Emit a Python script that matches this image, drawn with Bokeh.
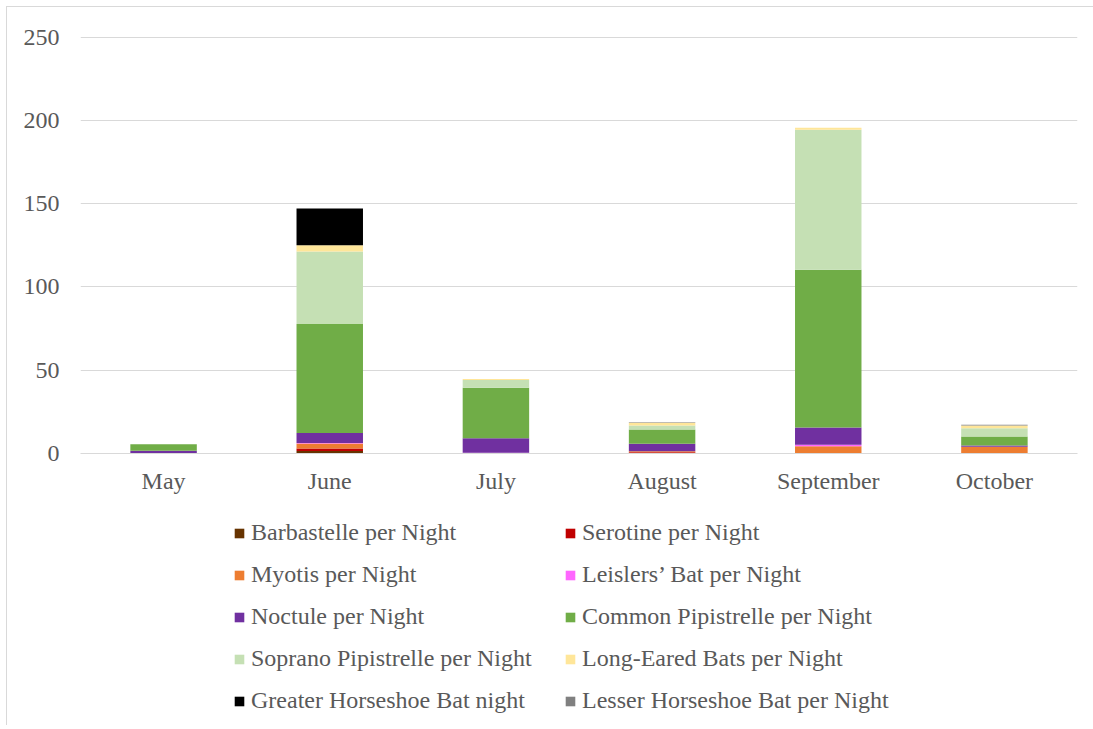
from bokeh.plotting import figure
from bokeh.layouts import column
from bokeh.models import ColumnDataSource, Legend, LegendItem, FixedTicker, FactorRange, Range1d
from bokeh.embed import file_html
from bokeh.resources import INLINE

months = ["May", "June", "July", "August", "September", "October"]
barbastelle = [0, 1.5, 0, 0.3, 0, 0]
serotine = [0, 1.5, 0, 0.5, 0, 0.3]
myotis = [0, 3.0, 0, 0.6, 4.4, 3.7]
leisler = [0, 0.3, 0.5, 0, 0.8, 0]
noctule = [1.6, 6.0, 8.6, 4.4, 10.4, 0.8]
common_pip = [4.0, 65.5, 30.4, 8.6, 94.8, 5.4]
soprano_pip = [0, 43.5, 4.6, 2.4, 84.0, 5.0]
long_eared = [0, 3.8, 0.6, 1.6, 1.2, 1.6]
greater_horseshoe = [0, 22.0, 0, 0, 0, 0]
lesser_horseshoe = [0, 0, 0, 0.4, 0, 0.4]

series_keys = ["barb", "sero", "myot", "leis", "noct", "comm", "sopr", "long", "ghs", "lhs"]
series_labels = ["Barbastelle per Night", "Serotine per Night", "Myotis per Night",
                 "Leislers\u2019 Bat per Night", "Noctule per Night",
                 "Common Pipistrelle per Night", "Soprano Pipistrelle per Night",
                 "Long-Eared Bats per Night", "Greater Horseshoe Bat night",
                 "Lesser Horseshoe Bat per Night"]
colors = ["#663300", "#C00000", "#ED7D31", "#FF66FF", "#7030A0",
          "#70AD47", "#C5E0B4", "#FFE699", "#000000", "#808080"]

data = dict(month=months, barb=barbastelle, sero=serotine, myot=myotis, leis=leisler,
            noct=noctule, comm=common_pip, sopr=soprano_pip, long=long_eared,
            ghs=greater_horseshoe, lhs=lesser_horseshoe)
source = ColumnDataSource(data)

FONT = "Liberation Serif"
TXT = "#595959"
FS = "24px"

p = figure(x_range=FactorRange(*months, range_padding=0), y_range=Range1d(0, 251),
           frame_width=997, frame_height=418, output_backend="svg",
           toolbar_location=None, min_border_left=73, min_border_top=28,
           min_border_right=16, min_border_bottom=50)
p.outline_line_color = None

rs = p.vbar_stack(series_keys, x="month", width=0.4, color=colors, source=source,
                  line_color=None)

p.yaxis.ticker = FixedTicker(ticks=[0, 50, 100, 150, 200, 250])
p.yaxis.axis_line_color = None
p.yaxis.major_tick_line_color = None
p.yaxis.minor_tick_line_color = None
p.yaxis.major_label_text_font = FONT
p.yaxis.major_label_text_font_size = FS
p.yaxis.major_label_text_color = TXT
p.yaxis.major_label_standoff = 15

p.xaxis.axis_line_color = "#D9D9D9"
p.xaxis.axis_line_width = 1
p.xaxis.major_tick_line_color = None
p.xaxis.minor_tick_line_color = None
p.xaxis.major_label_text_font = FONT
p.xaxis.major_label_text_font_size = FS
p.xaxis.major_label_text_color = TXT
p.xaxis.major_label_standoff = 8

p.xgrid.grid_line_color = None
p.ygrid.grid_line_color = "#D9D9D9"

# legend panel below the chart (swatch glyphs sit outside its visible range)
lg = figure(width=1086, height=222, output_backend="svg", toolbar_location=None,
            x_range=Range1d(0, 1), y_range=Range1d(0, 1),
            x_axis_type=None, y_axis_type=None, min_border=0,
            min_border_left=0, min_border_right=0, min_border_top=0, min_border_bottom=0)
lg.outline_line_color = None
lg.grid.grid_line_color = None
swatches = [lg.vbar(x=[-5], top=[-5], bottom=[-6], width=0.4, color=c, line_color=None)
            for c in colors]
items = [LegendItem(label=lab, renderers=[r]) for lab, r in zip(series_labels, swatches)]
legend = Legend(items=items, ncols=2, orientation="horizontal",
                label_text_font=FONT, label_text_font_size=FS,
                label_text_color=TXT, glyph_width=12, glyph_height=12,
                label_standoff=6, spacing=15, label_height=27, label_width=298,
                border_line_color=None, background_fill_alpha=0,
                location=(153, 11), padding=0, margin=0)
lg.add_layout(legend, "center")

layout = column(p, lg, spacing=0,
                styles={"margin-left": "6px", "margin-top": "6px",
                        "border-left": "1px solid #D9D9D9",
                        "border-top": "1px solid #D9D9D9"})

open("out.html", "w").write(file_html(layout, INLINE))
